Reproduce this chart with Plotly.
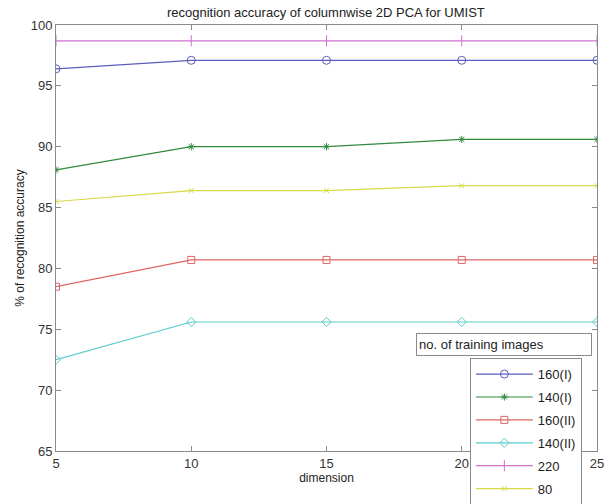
import plotly.graph_objects as go

# dimension of the projected feature matrix
dimension = [5, 10, 15, 20, 25]

# recognition accuracy (%) per number of training images
acc_160_I = [96.4, 97.1, 97.1, 97.1, 97.1]
acc_140_I = [88.1, 90.0, 90.0, 90.6, 90.6]
acc_160_II = [78.5, 80.7, 80.7, 80.7, 80.7]
acc_140_II = [72.5, 75.6, 75.6, 75.6, 75.6]
acc_220 = [98.7, 98.7, 98.7, 98.7, 98.7]
acc_80 = [85.5, 86.4, 86.4, 86.8, 86.8]

series = [
    ("160(I)", acc_160_I, "#5c5cbc", "circle-open", 8),
    ("140(I)", acc_140_I, "#2f8a3a", "asterisk-open", 6),
    ("160(II)", acc_160_II, "#e06464", "square-open", 7),
    ("140(II)", acc_140_II, "#5ccccc", "diamond-open", 7),
    ("220", acc_220, "#d070d0", "line-ns-open", 8),
    ("80", acc_80, "#d8d848", "x-thin-open", 5),
]

fig = go.Figure()
for name, vals, color, symbol, size in series:
    fig.add_trace(go.Scatter(
        x=dimension, y=vals, name=name, mode="lines+markers",
        legendgroup=name,
        line=dict(color=color, width=1.2),
        marker=dict(symbol=symbol, size=size, color=color,
                    line=dict(color=color, width=1)),
    ))

axis_common = dict(
    showline=True, linecolor="#8a8a8a", linewidth=1, mirror="ticks",
    ticks="inside", ticklen=5, tickcolor="#8a8a8a",
    showgrid=False, zeroline=False,
    tickfont=dict(family="Liberation Sans, Arial", size=13, color="#333333"),
)

fig.update_xaxes(range=[5, 25], tickvals=[5, 10, 15, 20, 25],
                 title=dict(text="dimension", standoff=4,
                            font=dict(family="Liberation Sans, Arial", size=12, color="#222222")),
                 **axis_common)
fig.update_yaxes(range=[65, 100], tickvals=[65, 70, 75, 80, 85, 90, 95, 100],
                 title=dict(text="% of recognition accuracy", standoff=3,
                            font=dict(family="Liberation Sans, Arial", size=12, color="#222222")),
                 **axis_common)

fig.add_annotation(
    xref="paper", yref="paper", x=0.6654, y=0.277, xanchor="left", yanchor="top",
    text="no. of training images", showarrow=False, align="left",
    width=170, height=17, borderpad=2,
    bordercolor="#8a8a8a", borderwidth=1, bgcolor="white",
    font=dict(family="Liberation Sans, Arial", size=13, color="#222222"),
)

fig.update_layout(
    width=613, height=504,
    margin=dict(l=56, r=16, t=25, b=53, autoexpand=False),
    paper_bgcolor="white", plot_bgcolor="white",
    title=dict(text="recognition accuracy of columnwise 2D PCA for UMIST",
               x=0.5316, xanchor="center", y=0.976, yanchor="middle",
               font=dict(family="Liberation Sans, Arial", size=13, color="#222222")),
    showlegend=True,
    legend=dict(x=0.765, y=0.218, xanchor="left", yanchor="top",
                bgcolor="white", bordercolor="#8a8a8a", borderwidth=1,
                tracegroupgap=3, itemwidth=57,
                font=dict(family="Liberation Sans, Arial", size=13, color="#222222")),
)

fig.write_html("out.html")
